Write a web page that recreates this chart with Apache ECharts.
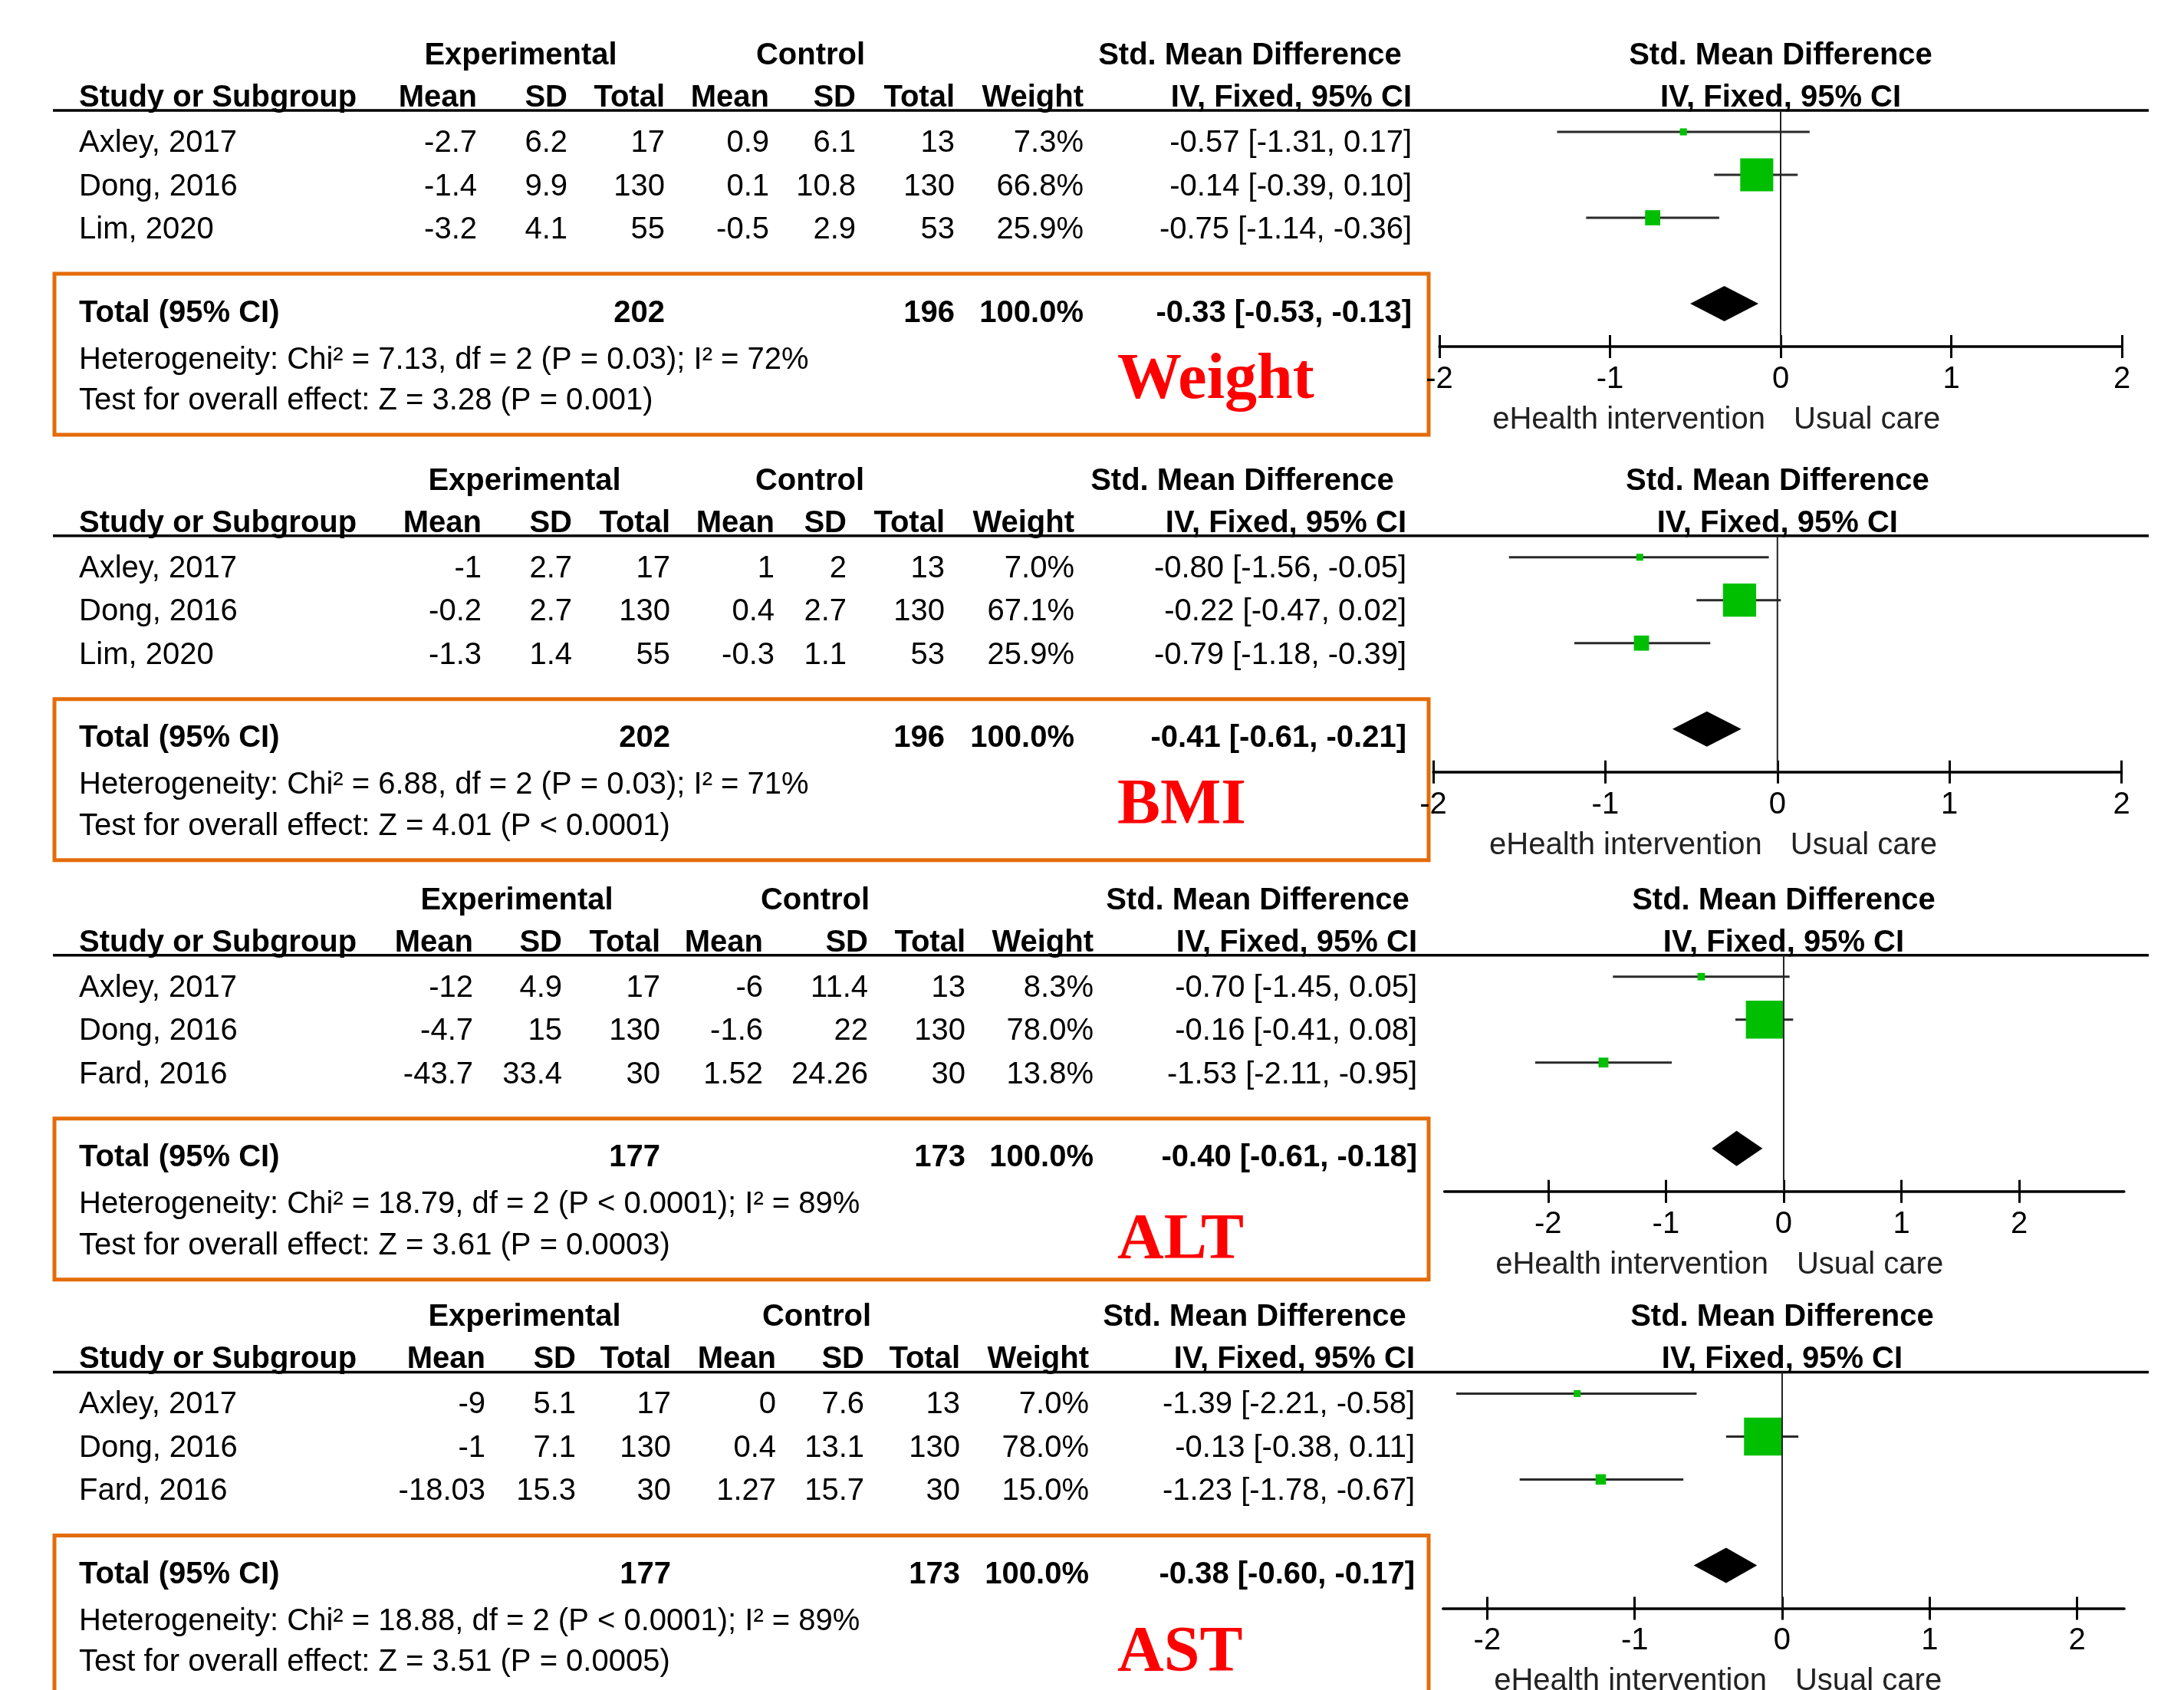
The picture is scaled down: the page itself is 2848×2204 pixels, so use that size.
<!DOCTYPE html>
<html>
<head>
<meta charset="utf-8">
<title>eHealth intervention vs usual care - forest plots</title>
<script src="https://cdn.jsdelivr.net/npm/echarts@6/dist/echarts.min.js"></script>
<style>
  html, body { margin: 0; padding: 0; background: #fff; }
  #chart { width: 2848px; height: 2204px; }
</style>
</head>
<body>
<div id="chart"></div>
<script>
// ---- data (one entry per outcome panel) ----
const outcomes = ['Weight', 'BMI', 'ALT', 'AST']

const studyNames = [
  ['Axley, 2017', 'Dong, 2016', 'Lim, 2020'],
  ['Axley, 2017', 'Dong, 2016', 'Lim, 2020'],
  ['Axley, 2017', 'Dong, 2016', 'Fard, 2016'],
  ['Axley, 2017', 'Dong, 2016', 'Fard, 2016']
]
const expMean = [[-2.7, -1.4, -3.2], [-1, -0.2, -1.3], [-12, -4.7, -43.7], [-9, -1, -18.03]]
const expSD = [[6.2, 9.9, 4.1], [2.7, 2.7, 1.4], [4.9, 15, 33.4], [5.1, 7.1, 15.3]]
const expTotal = [[17, 130, 55], [17, 130, 55], [17, 130, 30], [17, 130, 30]]
const ctrlMean = [[0.9, 0.1, -0.5], [1, 0.4, -0.3], [-6, -1.6, 1.52], [0, 0.4, 1.27]]
const ctrlSD = [[6.1, 10.8, 2.9], [2, 2.7, 1.1], [11.4, 22, 24.26], [7.6, 13.1, 15.7]]
const ctrlTotal = [[13, 130, 53], [13, 130, 53], [13, 130, 30], [13, 130, 30]]
const weights = [[7.3, 66.8, 25.9], [7.0, 67.1, 25.9], [8.3, 78.0, 13.8], [7.0, 78.0, 15.0]]
const smd = [[-0.57, -0.14, -0.75], [-0.80, -0.22, -0.79], [-0.70, -0.16, -1.53], [-1.39, -0.13, -1.23]]
const ciLow = [[-1.31, -0.39, -1.14], [-1.56, -0.47, -1.18], [-1.45, -0.41, -2.11], [-2.21, -0.38, -1.78]]
const ciHigh = [[0.17, 0.10, -0.36], [-0.05, 0.02, -0.39], [0.05, 0.08, -0.95], [-0.58, 0.11, -0.67]]

// pooled results
const sumExp = [202, 202, 177, 177]
const sumCtrl = [196, 196, 173, 173]
const pooled = [-0.33, -0.41, -0.40, -0.38]
const pooledLow = [-0.53, -0.61, -0.61, -0.60]
const pooledHigh = [-0.13, -0.21, -0.18, -0.17]
const chi2 = ['7.13', '6.88', '18.79', '18.88']
const chi2P = ['= 0.03', '= 0.03', '< 0.0001', '< 0.0001']
const iSquared = [72, 71, 89, 89]
const zValue = ['3.28', '4.01', '3.61', '3.51']
const zP = ['= 0.001', '< 0.0001', '= 0.0003', '= 0.0005']

const axisTicks = [-2, -1, 0, 1, 2]

// ---- layout ----
const FONT = '"Liberation Sans", Arial, sans-serif'
const SERIF = '"Liberation Serif", "Times New Roman", serif'
const panelTop = [144, 698.7, 1245.7, 1789.4] // y of header rule
const plotHeight = 308
const colRight = [
  [622, 740, 867, 1003, 1116, 1245, 1413, 1841],
  [628, 746, 874, 1010, 1104, 1232, 1401, 1834],
  [617, 733, 861, 995, 1132, 1259, 1426, 1848],
  [633, 751, 875, 1012, 1127, 1252, 1420, 1845]
]
const groupCenter = [[679, 1057, 1630], [684, 1056, 1620], [674, 1063, 1640], [684, 1065, 1636]]
const axisRange = [[-2, 2], [-2, 2], [-2.88, 2.89], [-2.3, 2.32]]
const gridLeft = [1877, 1869, 1883.6, 1881.7]
const gridWidth = [890, 897.6, 886.3, 888.4]
const outcomeLabelY = [349, 350, 370, 364]
const dy = 4 // canvas 'middle' sits a bit high for these glyphs

const colHeaders = ['Mean', 'SD', 'Total', 'Mean', 'SD', 'Total', 'Weight', 'IV, Fixed, 95% CI']

function txt(x, y, text, extra) {
  return {
    type: 'text', x: x, y: y + dy, silent: true,
    style: Object.assign({
      text: text, fontSize: 40, fontFamily: FONT, fill: '#000',
      align: 'left', verticalAlign: 'middle'
    }, extra || {})
  }
}
const bold = (align) => ({ fontWeight: 'bold', align: align || 'left' })
const ci = (e, l, h) => e.toFixed(2) + ' [' + l.toFixed(2) + ', ' + h.toFixed(2) + ']'

const graphic = []
const grids = []
const xAxes = []
const yAxes = []
const series = []

outcomes.forEach(function(name, i) {
  const T = panelTop[i]
  const cols = colRight[i]
  const [xmin, xmax] = axisRange[i]
  const zeroX = gridLeft[i] + (0 - xmin) / (xmax - xmin) * gridWidth[i]

  // header
  graphic.push(txt(groupCenter[i][0], T - 75, 'Experimental', bold('center')))
  graphic.push(txt(groupCenter[i][1], T - 75, 'Control', bold('center')))
  graphic.push(txt(groupCenter[i][2], T - 75, 'Std. Mean Difference', bold('center')))
  graphic.push(txt(zeroX, T - 75, 'Std. Mean Difference', bold('center')))
  graphic.push(txt(103, T - 20, 'Study or Subgroup', bold()))
  colHeaders.forEach((h, k) => graphic.push(txt(cols[k], T - 20, h, bold('right'))))
  graphic.push(txt(zeroX, T - 20, 'IV, Fixed, 95% CI', bold('center')))
  graphic.push({ type: 'line', silent: true, shape: { x1: 69, y1: T, x2: 2802, y2: T }, style: { stroke: '#000', lineWidth: 3.5 } })

  // study rows
  studyNames[i].forEach(function(study, j) {
    const y = T + 39 + 56.5 * j
    const cells = [expMean[i][j], expSD[i][j], expTotal[i][j], ctrlMean[i][j], ctrlSD[i][j], ctrlTotal[i][j],
      weights[i][j].toFixed(1) + '%', ci(smd[i][j], ciLow[i][j], ciHigh[i][j])]
    graphic.push(txt(103, y, study))
    cells.forEach((c, k) => graphic.push(txt(cols[k], y, String(c), { align: 'right' })))
  })

  // totals box
  graphic.push({ type: 'rect', silent: true, shape: { x: 71, y: T + 213, width: 1792, height: 210 },
    style: { fill: 'transparent', stroke: '#E46C0A', lineWidth: 5 } })
  graphic.push(txt(103, T + 260.5, 'Total (95% CI)', bold()))
  graphic.push(txt(cols[2], T + 260.5, String(sumExp[i]), bold('right')))
  graphic.push(txt(cols[5], T + 260.5, String(sumCtrl[i]), bold('right')))
  graphic.push(txt(cols[6], T + 260.5, '100.0%', bold('right')))
  graphic.push(txt(cols[7], T + 260.5, ci(pooled[i], pooledLow[i], pooledHigh[i]), bold('right')))
  graphic.push(txt(103, T + 321.5, 'Heterogeneity: Chi\u00b2 = ' + chi2[i] + ', df = 2 (P ' + chi2P[i] + '); I\u00b2 = ' + iSquared[i] + '%'))
  graphic.push(txt(103, T + 375, 'Test for overall effect: Z = ' + zValue[i] + ' (P ' + zP[i] + ')'))
  graphic.push(txt(1457, T + outcomeLabelY[i], name, { fontFamily: SERIF, fontWeight: 'bold', fontSize: 84, fill: '#ff0000' }))

  // favours labels under the axis
  const favY = T + plotHeight + 92
  graphic.push(txt(zeroX - 20, favY, 'eHealth intervention', { align: 'right', fill: '#222' }))
  graphic.push(txt(zeroX + 17, favY, 'Usual care', { fill: '#222' }))

  // forest plot grid
  grids.push({ left: gridLeft[i], top: T, width: gridWidth[i], height: plotHeight })
  xAxes.push({
    gridIndex: i, type: 'value', min: xmin, max: xmax, position: 'bottom',
    axisLine: { show: true, onZero: false, lineStyle: { color: '#000', width: 3.5 } },
    axisTick: { show: true, customValues: axisTicks, length: 15, lineStyle: { color: '#000', width: 3 } },
    axisLabel: { customValues: axisTicks, fontSize: 40, fontFamily: FONT, color: '#000', margin: 23 },
    splitLine: { show: false }
  })
  xAxes.push({
    gridIndex: i, type: 'value', min: xmin, max: xmax, position: 'bottom',
    axisLine: { show: false, onZero: false },
    axisTick: { show: true, inside: true, customValues: axisTicks, length: 15, lineStyle: { color: '#000', width: 3 } },
    axisLabel: { show: false },
    splitLine: { show: false }
  })
  yAxes.push({ gridIndex: i, type: 'value', min: 0.5, max: 6, inverse: true, show: false })

  // line of no effect
  series.push({
    type: 'line', xAxisIndex: 2 * i, yAxisIndex: i, silent: true, symbol: 'none',
    data: [[0, 0.5], [0, 6]], lineStyle: { color: '#222', width: 2 }
  })

  // studies: CI whisker + square sized by weight
  series.push({
    type: 'custom', xAxisIndex: 2 * i, yAxisIndex: i, silent: true,
    encode: { x: [0, 1, 2], y: 4 },
    data: smd[i].map((e, j) => [e, ciLow[i][j], ciHigh[i][j], weights[i][j], j + 1]),
    renderItem: function(params, api) {
      const row = api.value(4)
      const a = api.coord([api.value(1), row])
      const b = api.coord([api.value(2), row])
      const c = api.coord([api.value(0), row])
      const s = 5 + 0.57 * api.value(3)
      return {
        type: 'group',
        children: [
          { type: 'line', shape: { x1: a[0], y1: a[1], x2: b[0], y2: b[1] }, style: { stroke: '#2a2a2a', lineWidth: 3 } },
          { type: 'rect', shape: { x: c[0] - s / 2, y: c[1] - s / 2, width: s, height: s }, style: { fill: '#00bf00' } }
        ]
      }
    }
  })

  // pooled diamond
  series.push({
    type: 'custom', xAxisIndex: 2 * i, yAxisIndex: i, silent: true,
    encode: { x: [0, 1, 2], y: 3 },
    data: [[pooled[i], pooledLow[i], pooledHigh[i], 5]],
    renderItem: function(params, api) {
      const row = api.value(3)
      const l = api.coord([api.value(1), row])
      const r = api.coord([api.value(2), row])
      const m = api.coord([api.value(0), row])
      const h = 23
      return {
        type: 'polygon',
        shape: { points: [[l[0], l[1]], [m[0], m[1] - h], [r[0], r[1]], [m[0], m[1] + h]] },
        style: { fill: '#000' }
      }
    }
  })
})

const chart = echarts.init(document.getElementById('chart'))
chart.setOption({
  backgroundColor: '#fff',
  animation: false,
  grid: grids,
  xAxis: xAxes,
  yAxis: yAxes,
  series: series,
  graphic: graphic
})
</script>
</body>
</html>
